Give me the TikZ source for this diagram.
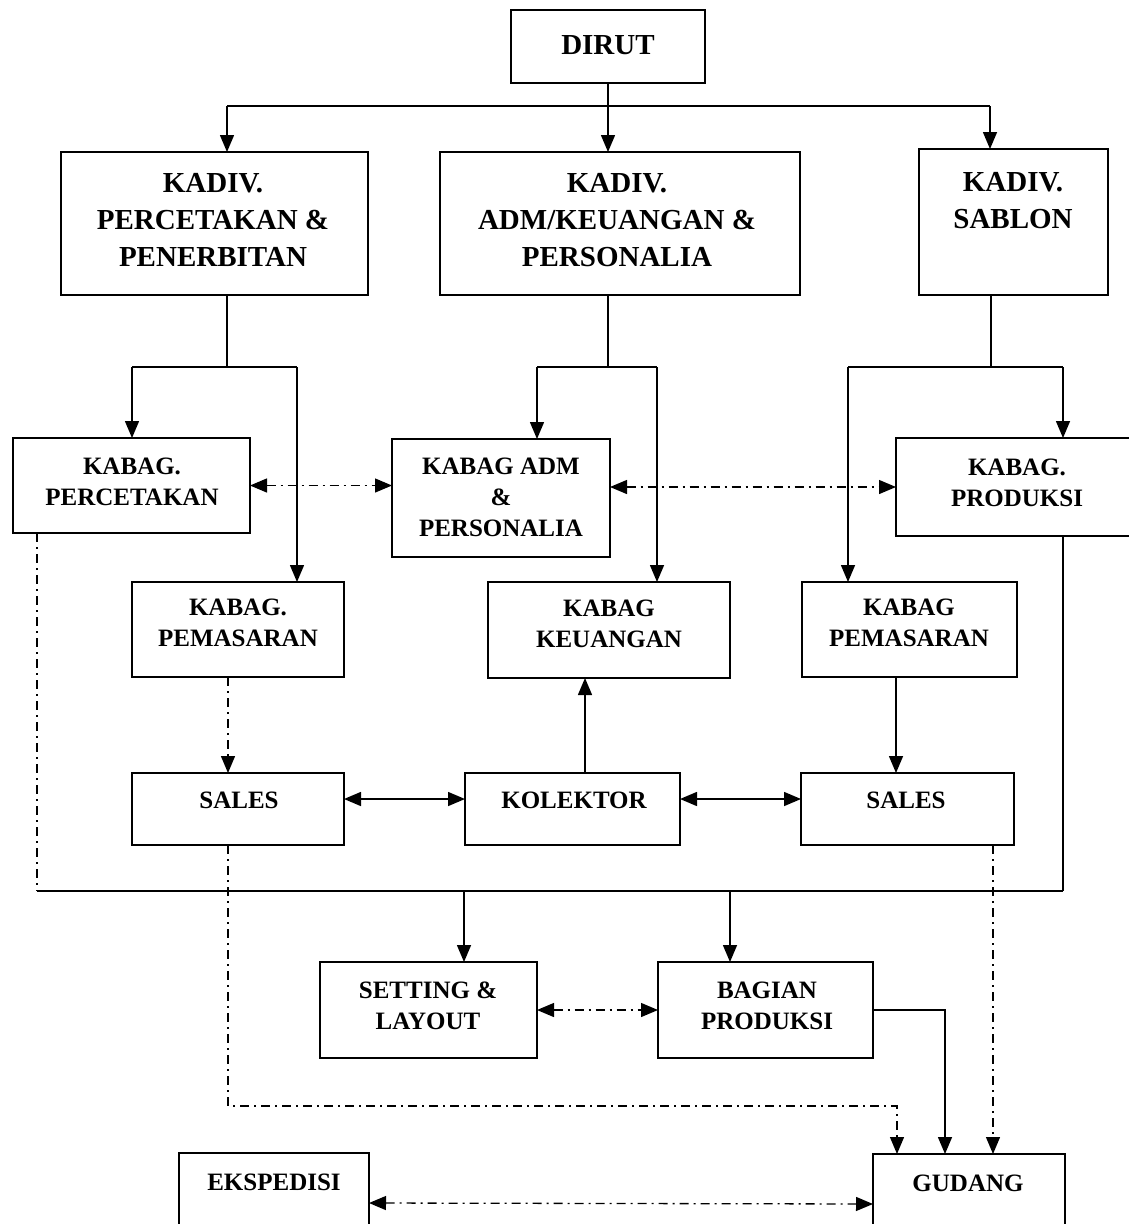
\documentclass[tikz,border=0pt]{standalone}
\usepackage{fontspec}
\setmainfont{Liberation Serif}
\usetikzlibrary{arrows.meta}
\begin{document}
\begin{tikzpicture}[x=1pt,y=-1pt,
  box/.style={draw, line width=1.6pt, inner sep=0pt, outer sep=0pt},
  txt/.style={font=\bfseries\fontsize{25pt}{31pt}\selectfont, align=center, inner sep=0pt},
  bigtxt/.style={font=\bfseries\fontsize{29pt}{37pt}\selectfont, align=center, inner sep=0pt},
  conn/.style={line width=1.5pt},
  tip/.tip={Triangle[length=17pt,width=14pt]},
  arr/.style={conn, -tip},
  sboth/.style={conn, tip-tip},
  dd/.style={line width=1.3pt, dash pattern=on 9pt off 5pt on 2pt off 5pt},
  ddarr/.style={dd, -tip},
  ddboth/.style={dd, tip-tip}]
\useasboundingbox (0,0) rectangle (1129,1224);
\fill[white] (0,0) rectangle (1129,1224);
\clip (0,0) rectangle (1129,1224);

% ---------- boxes ----------
\node[box, minimum width=194pt, minimum height=73pt]  (dirut)  at (608,46.5) {};
\node[box, minimum width=307pt, minimum height=143pt] (kp)     at (214.5,223.5) {};
\node[box, minimum width=360pt, minimum height=143pt] (ka)     at (620,223.5) {};
\node[box, minimum width=189pt, minimum height=146pt] (ks)     at (1013.5,222) {};
\node[box, minimum width=237pt, minimum height=95pt]  (kbp)    at (131.5,485.5) {};
\node[box, minimum width=218pt, minimum height=118pt] (kbadm)  at (501,498) {};
\node[box, minimum width=244pt, minimum height=98pt]  (kbprod) at (1018,487) {};
\node[box, minimum width=212pt, minimum height=95pt]  (kbpem1) at (238,629.5) {};
\node[box, minimum width=242pt, minimum height=96pt]  (keu)    at (609,630) {};
\node[box, minimum width=215pt, minimum height=95pt]  (kbpem2) at (909.5,629.5) {};
\node[box, minimum width=212pt, minimum height=72pt]  (sales1) at (238,809) {};
\node[box, minimum width=215pt, minimum height=72pt]  (kol)    at (572.5,809) {};
\node[box, minimum width=213pt, minimum height=72pt]  (sales2) at (907.5,809) {};
\node[box, minimum width=217pt, minimum height=96pt]  (setting) at (428.5,1010) {};
\node[box, minimum width=215pt, minimum height=96pt]  (bagian) at (765.5,1010) {};
\node[box, minimum width=190pt, minimum height=100pt] (eksp)   at (274,1203) {};
\node[box, minimum width=192pt, minimum height=100pt] (gudang) at (969,1204) {};

% ---------- texts ----------
\node[bigtxt] (t-dirut) at (608,45) {DIRUT};
\node[bigtxt] (t-kp) at (213,220) {KADIV.\\PERCETAKAN \&\\PENERBITAN};
\node[bigtxt] (t-ka) at (617,220) {KADIV.\\ADM/KEUANGAN \&\\PERSONALIA};
\node[bigtxt] (t-ks) at (1013,200.5) {KADIV.\\SABLON};
\node[txt] (t-kbp) at (132,482) {KABAG.\\PERCETAKAN};
\node[txt] (t-kbadm) at (501,497) {KABAG ADM\\\&\\PERSONALIA};
\node[txt] (t-kbprod) at (1017,483) {KABAG.\\PRODUKSI};
\node[txt] (t-kbpem1) at (238,623) {KABAG.\\PEMASARAN};
\node[txt] (t-keu) at (609,623.5) {KABAG\\KEUANGAN};
\node[txt] (t-kbpem2) at (909,623) {KABAG\\PEMASARAN};
\node[txt] (t-sales1) at (239,800) {SALES};
\node[txt] (t-kol) at (574,800) {KOLEKTOR};
\node[txt] (t-sales2) at (906,800) {SALES};
\node[txt] (t-setting) at (428,1006) {SETTING \&\\LAYOUT};
\node[txt] (t-bagian) at (767,1006) {BAGIAN\\PRODUKSI};
\node[txt] (t-eksp) at (274,1182) {EKSPEDISI};
\node[txt] (t-gudang) at (968,1183) {GUDANG};

% ---------- junction points ----------
\coordinate (t0) at (608,106);
\coordinate (tl) at (227,106);
\coordinate (tr) at (990,106);
\coordinate (l0) at (227,367);
\coordinate (l1) at (132,367);
\coordinate (l2) at (297,367);
\coordinate (m0) at (608,367);
\coordinate (m1) at (537,367);
\coordinate (m2) at (657,367);
\coordinate (r0) at (991,367);
\coordinate (r1) at (848,367);
\coordinate (r2) at (1063,367);
\coordinate (b1) at (37,891);
\coordinate (b2) at (1063,891);
\coordinate (b3) at (464,891);
\coordinate (b4) at (730,891);
\coordinate (g1) at (945,1010);
\coordinate (s1a) at (228,1106);
\coordinate (s1b) at (897,1106);
\coordinate (s2) at (993,900);
\coordinate (kx) at (585,700);
\coordinate (px) at (896,700);

% ---------- connectors ----------
\draw[conn] (dirut.south) -- (t0);
\draw[conn] (tl) -- (tr);
\draw[arr] (tl) -- (tl |- kp.north);
\draw[arr] (t0) -- (t0 |- ka.north);
\draw[arr] (tr) -- (tr |- ks.north);

\draw[conn] (l0 |- kp.south) -- (l0);
\draw[conn] (l1) -- (l2);
\draw[arr] (l1) -- (l1 |- kbp.north);
\draw[arr] (l2) -- (l2 |- kbpem1.north);

\draw[conn] (m0 |- ka.south) -- (m0);
\draw[conn] (m1) -- (m2);
\draw[arr] (m1) -- (m1 |- kbadm.north);
\draw[arr] (m2) -- (m2 |- keu.north);

\draw[conn] (r0 |- ks.south) -- (r0);
\draw[conn] (r1) -- (r2);
\draw[arr] (r2) -- (r2 |- kbprod.north);
\draw[arr] (r1) -- (r1 |- kbpem2.north);

\draw[ddboth] (kbp.east) -- (kbadm.west |- kbp.east);
\draw[ddboth] (kbadm.east |- kbprod.west) -- (kbprod.west);

\draw[ddarr] (s1a |- kbpem1.south) -- (s1a |- sales1.north);
\draw[arr] (kx |- kol.north) -- (kx |- keu.south);
\draw[arr] (px |- kbpem2.south) -- (px |- sales2.north);

\draw[sboth] ([yshift=10pt]sales1.east) -- ([yshift=10pt]kol.west);
\draw[sboth] ([yshift=10pt]kol.east) -- ([yshift=10pt]sales2.west);

\draw[dd] (b1 |- kbp.south) -- (b1);
\draw[conn] (b1) -- (b2);
\draw[conn] (b2 |- kbprod.south) -- (b2);
\draw[arr] (b3) -- (b3 |- setting.north);
\draw[arr] (b4) -- (b4 |- bagian.north);

\draw[ddboth] (setting.east) -- (bagian.west);
\draw[arr] (bagian.east) -- (g1) -- (g1 |- gudang.north);
\draw[ddarr] (s1a |- sales1.south) -- (s1a) -- (s1b) -- (s1b |- gudang.north);
\draw[ddarr] (s2 |- sales2.south) -- (s2 |- gudang.north);
\draw[ddboth] (eksp.east) -- (gudang.west);
\end{tikzpicture}
\end{document}
